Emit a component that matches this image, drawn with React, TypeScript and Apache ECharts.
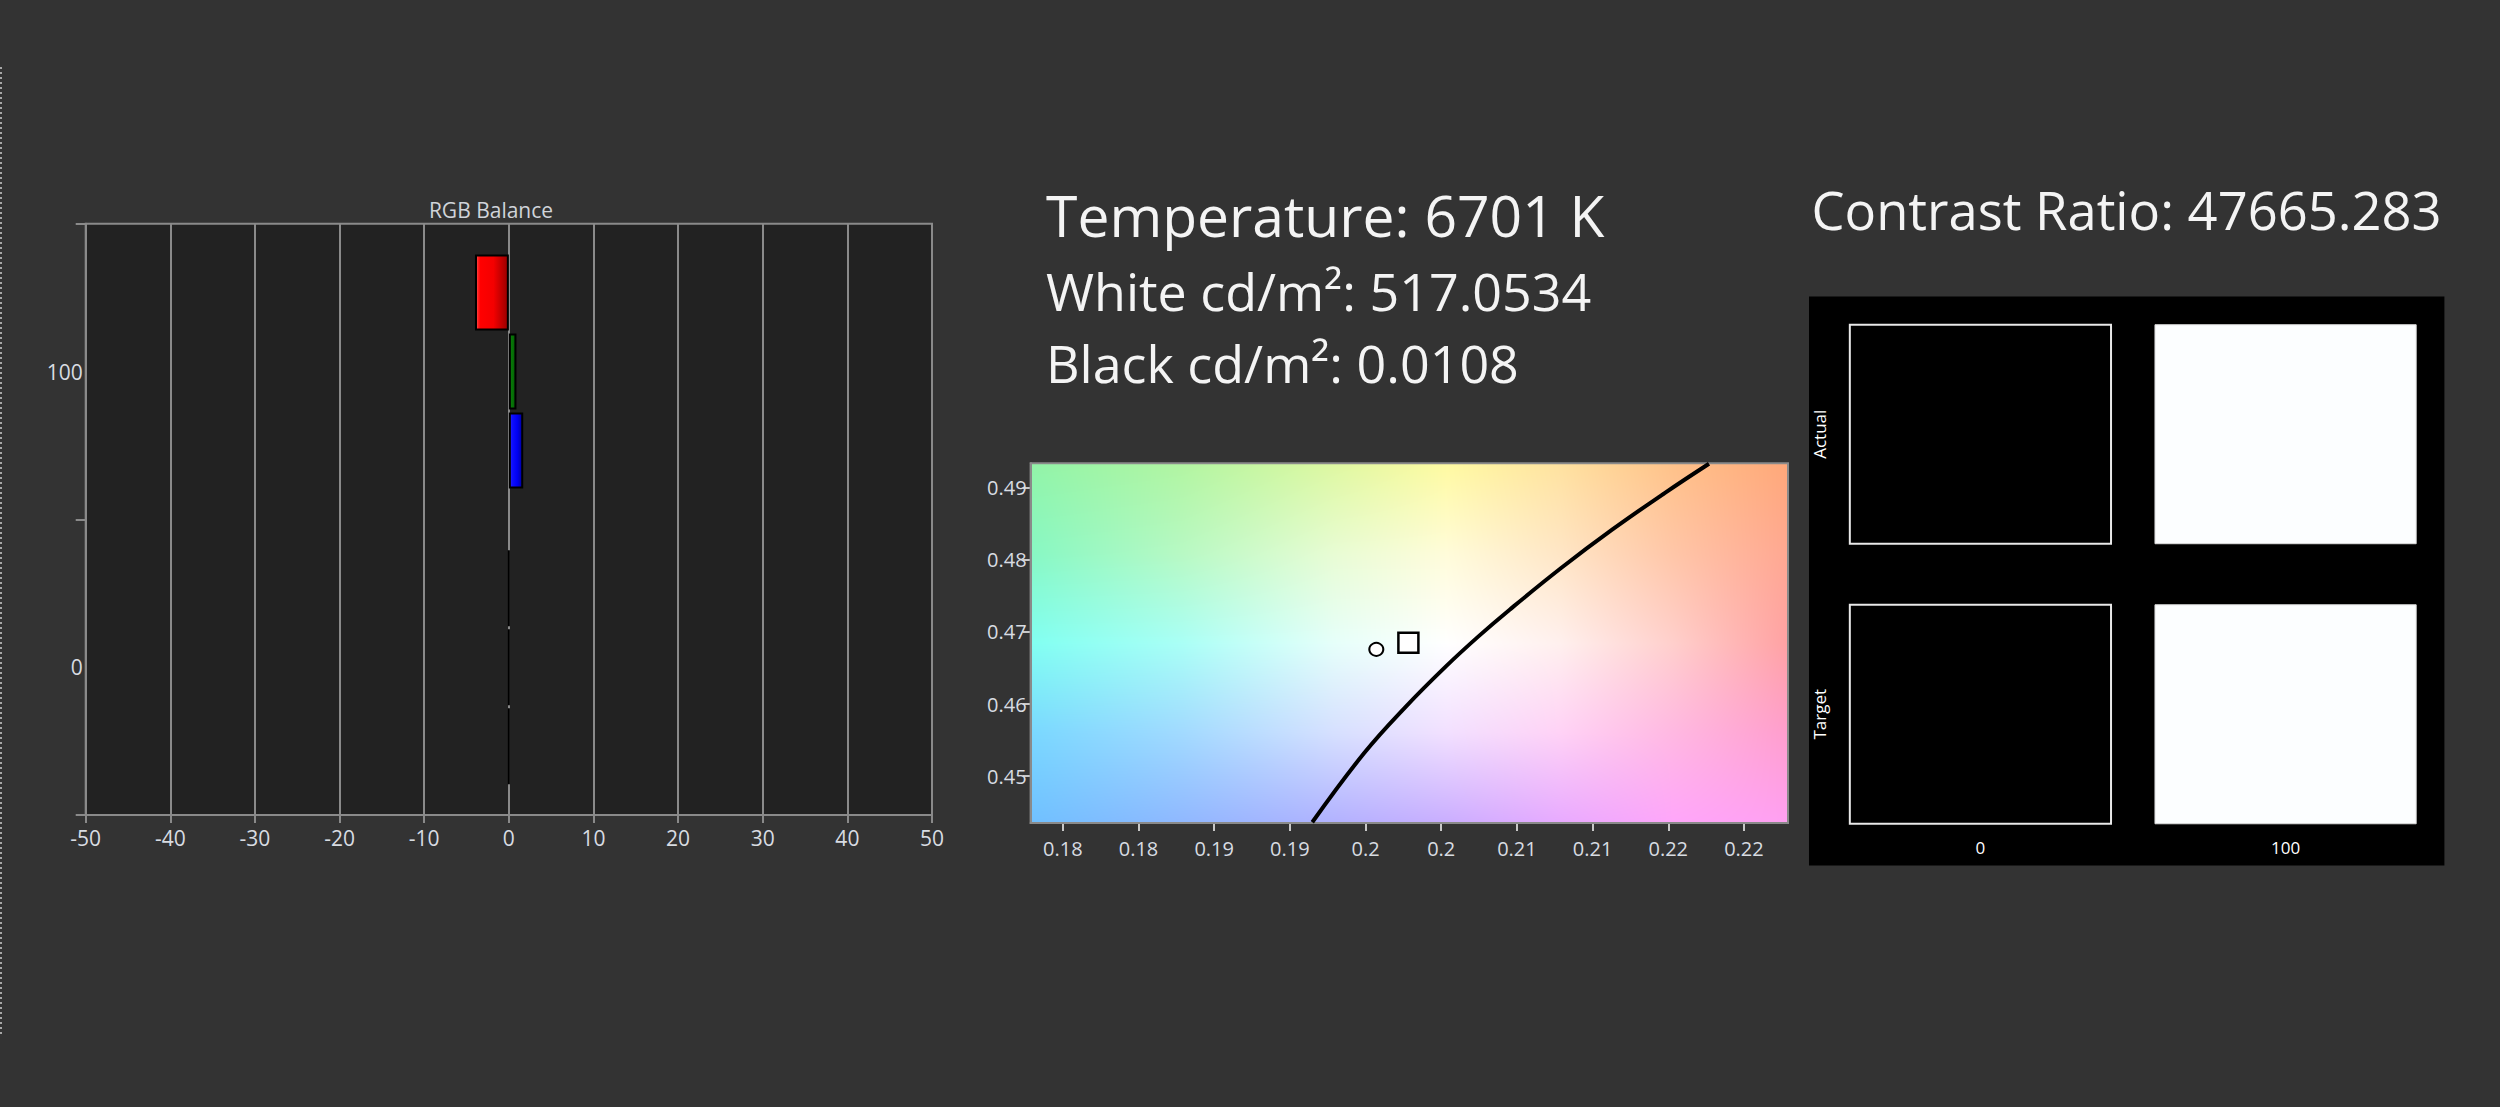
import React, { useEffect, useRef } from "react";
import * as echarts from "echarts";

// ---------- data ----------
const rgbCategories = ["0", "100"];
const rgbXTicks = { min: -50, max: 50, interval: 10 };
const redValues = [0, -4.0];
const greenValues = [0, 0.9];
const blueValues = [0, 1.7];

const chromaXRange = [0.17287, 0.22291];
const chromaYRange = [0.4435, 0.4934];
const chromaXTicks = [0.175, 0.18, 0.185, 0.19, 0.195, 0.2, 0.205, 0.21, 0.215, 0.22];
const chromaXLabels = ["0.18", "0.18", "0.19", "0.19", "0.2", "0.2", "0.21", "0.21", "0.22", "0.22"];
const chromaYTicks = [0.45, 0.46, 0.47, 0.48, 0.49];
const chromaYLabels = ["0.45", "0.46", "0.47", "0.48", "0.49"];
const locusPoints = [
  [0.19148, 0.4436],
  [0.19491, 0.45321],
  [0.19768, 0.45969],
  [0.20031, 0.46523],
  [0.20246, 0.46939],
  [0.20452, 0.47309],
  [0.20792, 0.47887],
  [0.21129, 0.48419],
  [0.21476, 0.48927],
  [0.21769, 0.49334],
];
const measuredPoint = [[0.19571, 0.46759]];
const targetPoint = [[0.19783, 0.46852]];

const contrastX = ["0", "100"];
const contrastY = ["Target", "Actual"];
const contrastActual = [0, 100];
const contrastTarget = [0, 100];

const temperatureText = "Temperature: 6701 K";
const whiteText = "White cd/m²: 517.0534";
const blackText = "Black cd/m²: 0.0108";
const contrastText = "Contrast Ratio: 47665.283";

// background colour field of the chromaticity plot (sample grid)
const bgCols = [0, 0.2, 0.4, 0.55, 0.7, 0.85, 1];
const bgRows = [0, 0.25, 0.5, 0.75, 1];
const bgColors = [
  ["#92f4a8", "#b2f5a2", "#def8a2", "#fffaa2", "#ffe2a0", "#ffc28a", "#ffa87a"],
  ["#88f8c4", "#b8f9c4", "#e8fcd4", "#fffcda", "#ffe6c6", "#ffc6a8", "#ffa892"],
  ["#82fff2", "#aafff6", "#e6fffa", "#ffffff", "#fff0ee", "#ffcfcc", "#ffa2a4"],
  ["#7ad8ff", "#a2daff", "#d6e0ff", "#f2e0ff", "#ffd2f6", "#ffb8e2", "#ff9ece"],
  ["#70c0ff", "#90b8ff", "#b2b2ff", "#caaeff", "#e8aaff", "#ffa6fa", "#ffa0f2"],
];

const FONT = '"Open Sans", "Noto Sans", sans-serif';

function hexToRgb(h: string) {
  const v = parseInt(h.slice(1), 16);
  return [(v >> 16) & 255, (v >> 8) & 255, v & 255];
}

function makeBackground(w: number, h: number): string {
  const cv = document.createElement("canvas");
  cv.width = w;
  cv.height = h;
  const ctx = cv.getContext("2d");
  if (!ctx) return "";
  const img = ctx.createImageData(w, h);
  const rgb = bgColors.map((r) => r.map(hexToRgb));
  const seg = (arr: number[], t: number) => {
    let i = 0;
    while (i < arr.length - 2 && t > arr[i + 1]) i++;
    const f = (t - arr[i]) / (arr[i + 1] - arr[i]);
    return [i, Math.min(1, Math.max(0, f))];
  };
  for (let y = 0; y < h; y++) {
    const [ri, rf] = seg(bgRows, y / (h - 1));
    for (let x = 0; x < w; x++) {
      const [ci, cf] = seg(bgCols, x / (w - 1));
      const p = (y * w + x) * 4;
      for (let k = 0; k < 3; k++) {
        const a = rgb[ri][ci][k] * (1 - cf) + rgb[ri][ci + 1][k] * cf;
        const b = rgb[ri + 1][ci][k] * (1 - cf) + rgb[ri + 1][ci + 1][k] * cf;
        img.data[p + k] = Math.round(a * (1 - rf) + b * rf);
      }
      img.data[p + 3] = 255;
    }
  }
  ctx.putImageData(img, 0, 0);
  return cv.toDataURL("image/png");
}

function barGradient(stops: [number, string][]) {
  return new echarts.graphic.LinearGradient(
    0,
    0,
    1,
    0,
    stops.map(([offset, color]) => ({ offset, color }))
  );
}

export default function App() {
  const ref = useRef<HTMLDivElement>(null);

  useEffect(() => {
    document.body.style.margin = "0";
    document.body.style.background = "#333333";
    if (!ref.current) return;
    const chart = echarts.init(ref.current, undefined, { renderer: "svg" });

    const g0 = { left: 85.7, top: 223.7, width: 846.3, height: 591.3 };
    const g1 = { left: 1030.6, top: 463.3, width: 757.4, height: 359.7 };
    const g2 = { left: 1827.85, top: 294.2, width: 610.3, height: 560.1 };

    const bg = makeBackground(Math.round(g1.width), Math.round(g1.height));

    const axisGrey = "#8a8a8a";
    const labelGrey = "#d8dce2";

    const labelFor = (ticks: number[], labels: string[]) => (v: number) => {
      const i = ticks.findIndex((t) => Math.abs(t - v) < 1e-7);
      return i >= 0 ? labels[i] : "";
    };

    const barCommon = {
      type: "bar",
      xAxisIndex: 0,
      yAxisIndex: 0,
      barWidth: 76,
      barGap: "4%",
    };

    const textStyle = (text: string, fontSize: number) => ({
      text,
      fill: "#f4f4f4",
      fontSize,
      fontFamily: FONT,
      align: "left",
      verticalAlign: "middle",
    });

    chart.setOption({
      animation: false,
      backgroundColor: "#333333",
      grid: [
        {
          ...g0,
          show: true,
          backgroundColor: "#222222",
          borderColor: axisGrey,
          borderWidth: 2,
        },
        { ...g1, show: false },
        { ...g2, show: false },
      ],
      xAxis: [
        {
          type: "value",
          gridIndex: 0,
          min: rgbXTicks.min,
          max: rgbXTicks.max,
          interval: rgbXTicks.interval,
          axisLine: { show: true, onZero: false, lineStyle: { color: axisGrey, width: 2 } },
          axisTick: { show: true, length: 8, lineStyle: { color: axisGrey, width: 2 } },
          axisLabel: { color: labelGrey, fontSize: 21, margin: 12, fontFamily: FONT },
          splitLine: { show: true, lineStyle: { color: axisGrey, width: 2 } },
        },
        {
          type: "value",
          gridIndex: 1,
          min: chromaXRange[0],
          max: chromaXRange[1],
          axisLine: { show: true, onZero: false, lineStyle: { color: axisGrey, width: 2 } },
          axisTick: {
            show: true,
            length: 8,
            customValues: chromaXTicks,
            lineStyle: { color: "#c8c8c8", width: 2 },
          },
          axisLabel: {
            customValues: chromaXTicks,
            formatter: labelFor(chromaXTicks, chromaXLabels),
            color: labelGrey,
            fontSize: 20,
            margin: 15,
            fontFamily: FONT,
          },
          splitLine: { show: false },
        },
        {
          type: "category",
          gridIndex: 2,
          data: contrastX,
          axisLine: { show: false },
          axisTick: { show: false },
          axisLabel: { color: "#ffffff", fontSize: 17, margin: -15, fontFamily: FONT },
          splitLine: { show: false },
        },
      ],
      yAxis: [
        {
          type: "category",
          gridIndex: 0,
          data: rgbCategories,
          axisLine: { show: true, onZero: false, lineStyle: { color: axisGrey, width: 2 } },
          axisTick: { show: true, length: 10, lineStyle: { color: axisGrey, width: 2 } },
          axisLabel: { color: labelGrey, fontSize: 21, margin: 3, fontFamily: FONT },
          splitLine: { show: false },
        },
        {
          type: "value",
          gridIndex: 1,
          min: chromaYRange[0],
          max: chromaYRange[1],
          axisLine: { show: true, onZero: false, lineStyle: { color: axisGrey, width: 2 } },
          axisTick: {
            show: true,
            length: 8,
            customValues: chromaYTicks,
            lineStyle: { color: "#c8c8c8", width: 2 },
          },
          axisLabel: {
            customValues: chromaYTicks,
            formatter: labelFor(chromaYTicks, chromaYLabels),
            color: labelGrey,
            fontSize: 20,
            margin: 4,
            fontFamily: FONT,
          },
          splitLine: { show: false },
        },
        {
          type: "category",
          gridIndex: 2,
          data: contrastY,
          axisLine: { show: false },
          axisTick: { show: false },
          axisLabel: { color: "#ffffff", fontSize: 17, margin: 0, rotate: 90, fontFamily: FONT },
          splitLine: { show: false },
        },
      ],
      graphic: [
        {
          type: "line",
          shape: { x1: 1, y1: 67, x2: 1, y2: 1036 },
          style: { stroke: "#a8a8a8", lineWidth: 2, lineDash: [2, 3] },
          silent: true,
        },
        {
          type: "image",
          x: g1.left,
          y: g1.top,
          z: -1,
          style: { image: bg, x: 0, y: 0, width: g1.width, height: g1.height },
          silent: true,
        },
        {
          type: "rect",
          shape: { x: g1.left, y: g1.top, width: g1.width, height: g1.height },
          style: { fill: "none", stroke: axisGrey, lineWidth: 2 },
          z: 1,
          silent: true,
        },
        {
          type: "rect",
          z: -1,
          shape: { x: 1809, y: 296.5, width: 635.4, height: 569 },
          style: { fill: "#000000" },
          silent: true,
        },
        {
          type: "text",
          x: 491,
          y: 209.5,
          style: {
            text: "RGB Balance",
            fill: "#d0d4da",
            fontSize: 21,
            fontFamily: FONT,
            align: "center",
            verticalAlign: "middle",
          },
        },
        { type: "text", x: 1046, y: 215, style: textStyle(temperatureText, 57) },
        { type: "text", x: 1046, y: 290, style: textStyle(whiteText, 52) },
        { type: "text", x: 1046, y: 362, style: textStyle(blackText, 52) },
        { type: "text", x: 1811.5, y: 209, style: textStyle(contrastText, 52.5) },
      ],
      series: [
        {
          ...barCommon,
          name: "Red",
          data: redValues,
          itemStyle: {
            color: barGradient([
              [0, "#ff5c5c"],
              [0.07, "#ff2020"],
              [0.14, "#ff0000"],
              [0.55, "#f40000"],
              [1, "#980000"],
            ]),
            borderColor: "#000000",
            borderWidth: 2,
          },
        },
        {
          ...barCommon,
          name: "Green",
          data: greenValues,
          itemStyle: {
            color: barGradient([
              [0, "#1c8c1c"],
              [0.2, "#087808"],
              [0.6, "#067006"],
              [1, "#034e03"],
            ]),
            borderColor: "#000000",
            borderWidth: 2,
          },
        },
        {
          ...barCommon,
          name: "Blue",
          data: blueValues,
          itemStyle: {
            color: barGradient([
              [0, "#4a4aff"],
              [0.15, "#1010ff"],
              [0.6, "#0000f2"],
              [1, "#00009c"],
            ]),
            borderColor: "#000000",
            borderWidth: 2,
          },
        },
        {
          type: "line",
          name: "Planckian locus",
          xAxisIndex: 1,
          yAxisIndex: 1,
          data: locusPoints,
          smooth: 0.4,
          symbol: "none",
          lineStyle: { color: "#000000", width: 4 },
          z: 3,
        },
        {
          type: "scatter",
          name: "Measured",
          xAxisIndex: 1,
          yAxisIndex: 1,
          data: measuredPoint,
          symbol: "circle",
          symbolSize: [14, 13],
          itemStyle: { color: "#ffffff", borderColor: "#000000", borderWidth: 2, opacity: 1 },
          z: 4,
        },
        {
          type: "scatter",
          name: "Target",
          xAxisIndex: 1,
          yAxisIndex: 1,
          data: targetPoint,
          symbol: "rect",
          symbolSize: 20,
          itemStyle: { color: "#ffffff", borderColor: "#000000", borderWidth: 2.5, opacity: 1 },
          z: 4,
        },
        {
          type: "custom",
          name: "Contrast",
          xAxisIndex: 2,
          yAxisIndex: 2,
          data: [
            [0, 1, contrastActual[0]],
            [1, 1, contrastActual[1]],
            [0, 0, contrastTarget[0]],
            [1, 0, contrastTarget[1]],
          ],
          renderItem: (params: any, api: any) => {
            const c = api.coord([api.value(0), api.value(1)]);
            const s = api.size([1, 1]);
            const w = s[0] * 0.856;
            const h = s[1] * 0.782;
            const lvl = api.value(2);
            const isWhite = lvl >= 50;
            const g = Math.round((lvl / 100) * 253);
            return {
              type: "rect",
              shape: { x: c[0] - w / 2, y: c[1] - h / 2, width: w, height: h },
              style: {
                fill: isWhite ? "#fcfeff" : `rgb(${g},${g},${g})`,
                stroke: isWhite ? "#dcdcdc" : "#e8e8e8",
                lineWidth: isWhite ? 1 : 2,
              },
            };
          },
        },
      ],
    });

    return () => chart.dispose();
  }, []);

  return <div ref={ref} style={{ width: 2500, height: 1107, background: "#333333" }} />;
}
